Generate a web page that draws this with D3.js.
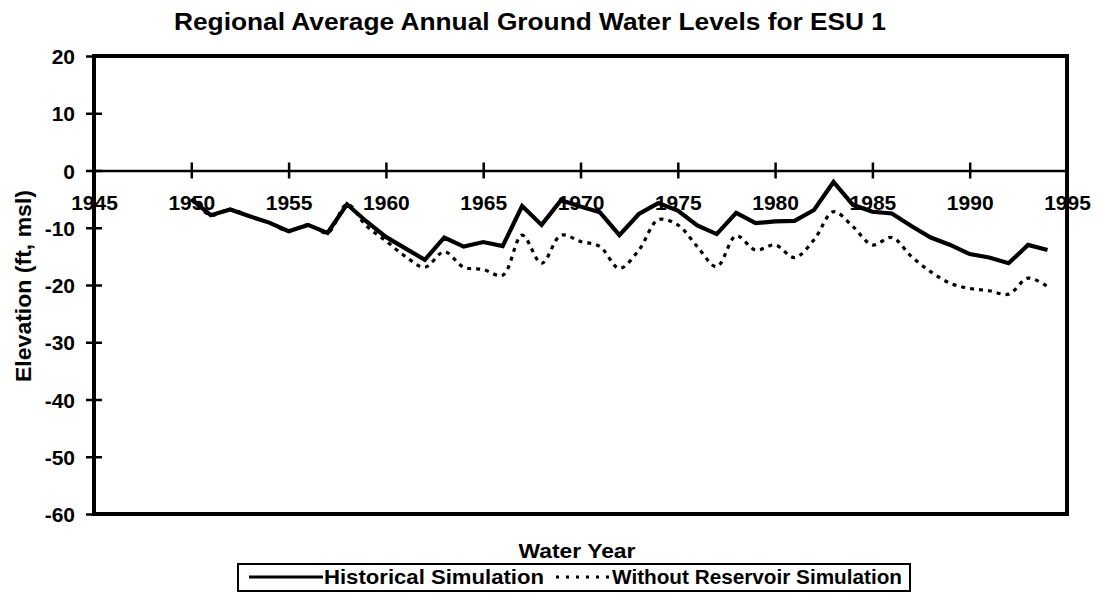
<!DOCTYPE html>
<html lang="en">
<head>
    <meta charset="UTF-8">
    <title>Regional Average Annual Ground Water Levels for ESU 1</title>
    <script src="https://cdnjs.cloudflare.com/ajax/libs/d3/7.8.5/d3.min.js"></script>
    <style>
        body { margin: 0; background: #fff; }
        svg { display: block; font-family: "Liberation Sans", Arial, sans-serif; font-weight: bold; }
    </style>
</head>
<body>
    <div id="chart"></div>

    <script>
        // water years and simulated levels (ft, msl)
        let years = [1950, 1951, 1952, 1953, 1954, 1955, 1956, 1957, 1958, 1959,
                     1960, 1961, 1962, 1963, 1964, 1965, 1966, 1967, 1968, 1969,
                     1970, 1971, 1972, 1973, 1974, 1975, 1976, 1977, 1978, 1979,
                     1980, 1981, 1982, 1983, 1984, 1985, 1986, 1987, 1988, 1989,
                     1990, 1991, 1992, 1993, 1994];

        let historical = [-5.0, -7.8, -6.8, -8.0, -9.1, -10.6, -9.5, -10.9, -5.9, -8.9,
                          -11.6, -13.6, -15.6, -11.7, -13.3, -12.5, -13.2, -6.2, -9.5, -5.2,
                          -6.3, -7.3, -11.3, -7.6, -5.7, -7.0, -9.6, -11.1, -7.4, -9.2,
                          -8.9, -8.8, -6.9, -2.0, -6.0, -7.2, -7.5, -9.7, -11.7, -13.0,
                          -14.6, -15.2, -16.2, -13.0, -13.9];

        let withoutReservoir = [-5.0, -7.8, -6.8, -8.0, -9.1, -10.6, -9.5, -10.9, -5.9, -9.7,
                                -12.3, -15.0, -16.9, -14.2, -16.9, -17.3, -18.3, -11.3, -16.2, -11.3,
                                -12.4, -13.3, -17.1, -13.9, -8.6, -9.5, -13.3, -16.8, -11.4, -13.9,
                                -13.0, -15.2, -12.1, -7.2, -9.8, -13.0, -11.7, -15.0, -17.7, -19.7,
                                -20.6, -21.0, -21.6, -18.8, -20.3];

        let xTicks = [1945, 1950, 1955, 1960, 1965, 1970, 1975, 1980, 1985, 1990, 1995];
        let yTicks = [20, 10, 0, -10, -20, -30, -40, -50, -60];

        let seriesNames = ['Historical Simulation', 'Without Reservoir Simulation'];

        let width = 1100;
        let height = 609;

        let svg = d3.select('#chart')
            .append('svg')
            .attr('width', width)
            .attr('height', height);

        let x = d3.scaleLinear().domain([1945, 1995]).range([94, 1067]);
        let y = d3.scaleLinear().domain([-60, 20]).range([514, 56]);

        //title
        svg.append('text')
            .attr('x', 530)
            .attr('y', 30)
            .attr('text-anchor', 'middle')
            .attr('font-size', 23)
            .attr('textLength', 712)
            .attr('lengthAdjust', 'spacingAndGlyphs')
            .text('Regional Average Annual Ground Water Levels for ESU 1');

        //y axis, ticks cross the line; plain hyphen like the original
        let yAxis = svg.append('g')
            .attr('transform', 'translate(' + x(1945) + ',0)')
            .call(d3.axisLeft(y).tickValues(yTicks).tickFormat(d => String(d)).tickSize(8).tickPadding(12));
        yAxis.select('.domain').remove();
        yAxis.selectAll('.tick line').attr('x1', -8).attr('x2', 8).attr('stroke', '#000').attr('stroke-width', 2.5);
        yAxis.selectAll('.tick text')
            .attr('font-size', 21)
            .attr('font-family', '"Liberation Sans", Arial, sans-serif')
            .attr('font-weight', 'bold')
            .attr('fill', '#000')
            .attr('x', -19)
            .attr('dy', '0.36em');

        //x axis sits on the zero line
        let xAxis = svg.append('g')
            .attr('transform', 'translate(0,' + y(0) + ')')
            .call(d3.axisBottom(x).tickValues(xTicks).tickFormat(d => String(d)).tickSize(8));
        xAxis.select('.domain').attr('stroke', '#000').attr('stroke-width', 2.5);
        xAxis.selectAll('.tick line').attr('y1', -8).attr('y2', 8).attr('stroke', '#000').attr('stroke-width', 2.5);
        xAxis.selectAll('.tick text')
            .attr('font-size', 21)
            .attr('font-family', '"Liberation Sans", Arial, sans-serif')
            .attr('font-weight', 'bold')
            .attr('fill', '#000')
            .attr('y', 39)
            .attr('dy', 0);

        //plot frame
        svg.append('rect')
            .attr('x', x(1945))
            .attr('y', y(20))
            .attr('width', x(1995) - x(1945))
            .attr('height', y(-60) - y(20))
            .attr('fill', 'none')
            .attr('stroke', '#000')
            .attr('stroke-width', 4);

        //lines
        let solidLine = d3.line()
            .x((d, i) => x(years[i]))
            .y(d => y(d));

        let smoothLine = d3.line()
            .x((d, i) => x(years[i]))
            .y(d => y(d))
            .curve(d3.curveCatmullRom);

        svg.append('path')
            .datum(withoutReservoir)
            .attr('d', smoothLine)
            .attr('fill', 'none')
            .attr('stroke', '#000')
            .attr('stroke-width', 3.2)
            .attr('stroke-dasharray', '4,5');

        svg.append('path')
            .datum(historical)
            .attr('d', solidLine)
            .attr('fill', 'none')
            .attr('stroke', '#000')
            .attr('stroke-width', 4.2)
            .attr('stroke-linejoin', 'miter');

        //axis titles
        svg.append('text')
            .attr('transform', 'translate(31,286) rotate(-90)')
            .attr('text-anchor', 'middle')
            .attr('font-size', 22)
            .attr('textLength', 192)
            .attr('lengthAdjust', 'spacingAndGlyphs')
            .text('Elevation (ft, msl)');

        svg.append('text')
            .attr('x', 577)
            .attr('y', 558)
            .attr('text-anchor', 'middle')
            .attr('font-size', 20)
            .attr('textLength', 117)
            .attr('lengthAdjust', 'spacingAndGlyphs')
            .text('Water Year');

        //legend
        let legend = svg.append('g');
        legend.append('rect')
            .attr('x', 238)
            .attr('y', 564)
            .attr('width', 672)
            .attr('height', 27)
            .attr('fill', 'none')
            .attr('stroke', '#000')
            .attr('stroke-width', 2);

        legend.append('line')
            .attr('x1', 249).attr('x2', 323)
            .attr('y1', 577).attr('y2', 577)
            .attr('stroke', '#000')
            .attr('stroke-width', 3);
        legend.append('text')
            .attr('x', 324)
            .attr('y', 584)
            .attr('font-size', 21)
            .attr('textLength', 220)
            .attr('lengthAdjust', 'spacingAndGlyphs')
            .text(seriesNames[0]);

        legend.append('line')
            .attr('x1', 556).attr('x2', 612)
            .attr('y1', 577).attr('y2', 577)
            .attr('stroke', '#000')
            .attr('stroke-width', 3)
            .attr('stroke-dasharray', '3,7');
        legend.append('text')
            .attr('x', 612)
            .attr('y', 584)
            .attr('font-size', 21)
            .attr('textLength', 290)
            .attr('lengthAdjust', 'spacingAndGlyphs')
            .text(seriesNames[1]);
    </script>
</body>
</html>
